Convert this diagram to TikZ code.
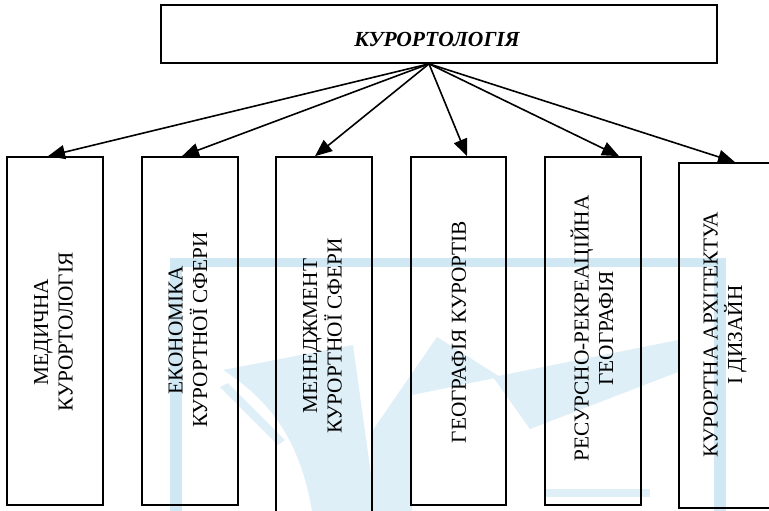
\documentclass[tikz,border=0pt]{standalone}
\usepackage{fontspec}
\setmainfont{Liberation Serif}
\usetikzlibrary{arrows.meta}
\definecolor{wmbar}{RGB}{208,232,244}
\definecolor{wmfill}{RGB}{222,239,248}
\begin{document}
\begin{tikzpicture}[x=1pt,y=-1pt,
  boxnode/.style={draw, line width=1.7pt, inner sep=0pt},
  lbl/.style={rotate=90, align=center, font=\fontsize{21.3}{24.5}\selectfont, inner sep=0pt},
  conn/.style={line width=1.6pt, -{Triangle[length=17pt,width=14pt]}},
]
\useasboundingbox (0,0) rectangle (769,511);
\clip (0,0) rectangle (769,511);
\fill[white] (0,0) rectangle (769,511);
% watermark (background)
\fill[wmbar] (170,258) rectangle (726,267);
\fill[wmbar] (170,258) rectangle (182,511);
\fill[wmbar] (714,258) rectangle (726,511);
\fill[wmfill] (223,370) -- (353,345) -- (376,511) -- (312,511) .. controls (300,440) and (270,400) .. (223,370) -- cycle;
\fill[wmfill] (220,387) -- (228,383) -- (285,440) -- (278,445) -- cycle;
\fill[wmfill] (373,511) -- (373,430) -- (437,337) -- (500,377) -- (412,395) -- (412,511) -- cycle;
\fill[wmfill] (493,377) -- (678,340) -- (678,372) -- (530,429) -- cycle;
\fill[wmfill] (545,489) rectangle (650,497);
% boxes
\node[boxnode, minimum width=556pt, minimum height=58pt] (top) at (439,34) {};
\node[font=\fontsize{21.5}{24}\selectfont\bfseries\itshape, anchor=base, inner sep=0pt] (tt) at (437,46.5) {КУРОРТОЛОГІЯ};
\node[boxnode, minimum width=96pt, minimum height=348pt] (b1) at (55,331) {};
\node[boxnode, minimum width=96pt, minimum height=348pt] (b2) at (190,331) {};
\node[boxnode, minimum width=96pt, minimum height=360pt] (b3) at (324,337) {};
\node[boxnode, minimum width=95pt, minimum height=348pt] (b4) at (458.5,331) {};
\node[boxnode, minimum width=96pt, minimum height=348pt] (b5) at (593,331) {};
\node[boxnode, minimum width=96pt, minimum height=345pt] (b6) at (727,335.5) {};
% labels
\node[lbl] (t1) at (53.5,332) {МЕДИЧНА\\КУРОРТОЛОГІЯ};
\node[lbl] (t2) at (188,330) {ЕКОНОМІКА\\КУРОРТНОЇ СФЕРИ};
\node[lbl] (t3) at (322.5,336) {МЕНЕДЖМЕНТ\\КУРОРТНОЇ СФЕРИ};
\node[lbl] (t4) at (459,332) {ГЕОГРАФІЯ КУРОРТІВ};
\node[lbl] (t5) at (592,328.5) {РЕСУРСНО-РЕКРЕАЦІЙНА\\ГЕОГРАФІЯ};
\node[lbl] (t6) at (725,335) {КУРОРТНА АРХІТЕКТУА\\І ДИЗАЙН};
% connectors
\draw[conn] ([xshift=-10pt]top.south) -- ([xshift=-7pt]b1.north);
\draw[conn] ([xshift=-10pt]top.south) -- ([xshift=-8pt]b2.north);
\draw[conn] ([xshift=-10pt]top.south) -- ([xshift=-9pt]b3.north);
\draw[conn] ([xshift=-10pt]top.south) -- ([xshift=8.5pt]b4.north);
\draw[conn] ([xshift=-10pt]top.south) -- ([xshift=26pt]b5.north);
\draw[conn] ([xshift=-10pt]top.south) -- ([xshift=8pt]b6.north);
\end{tikzpicture}
\end{document}
